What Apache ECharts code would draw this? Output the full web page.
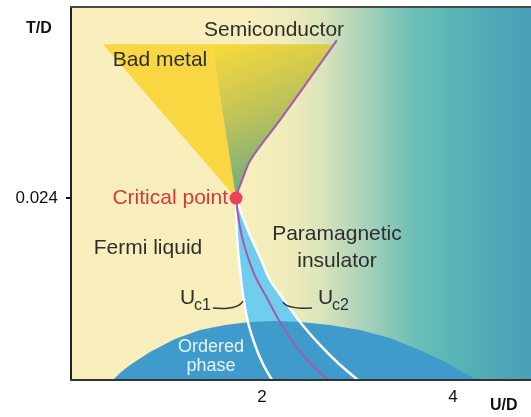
<!DOCTYPE html>
<html>
<head>
<meta charset="utf-8">
<script src="https://cdn.jsdelivr.net/npm/echarts@6/dist/echarts.min.js"></script>
<style>
html,body{margin:0;padding:0;background:#fff;}
#chart{width:531px;height:417px;}
</style>
</head>
<body>
<div id="chart"></div>
<script>
// ---- data (U/D, T/D) ----
const xTickLabels = [2, 4];
const yTickLabels = [0.024];
const criticalPoint = [1.728, 0.024];

// Bad-metal wedge (flat yellow part)
const badMetalWedge = [[0.335, 0.0443], [1.476, 0.0443], [1.728, 0.024]];
// Crossover line from critical point up to the semiconductor region
const crossoverUpper = [[1.728, 0.024], [1.752, 0.02506], [1.792, 0.02637], [1.862, 0.02862],
  [1.950, 0.03033], [2.188, 0.03429], [2.503, 0.03982], [2.785, 0.04484]];
const fanTopEdge = [[1.476, 0.0443], [2.749, 0.0443]];
// First-order transition lines below the critical point
const uc1Line = [[1.728, 0.024], [1.733, 0.02044], [1.749, 0.01714], [1.770, 0.01451], [1.801, 0.01121],
  [1.853, 0.00765], [1.927, 0.00462], [2.010, 0.00211], [2.105, 0]];
const ucLine = [[1.728, 0.024], [1.749, 0.02176], [1.780, 0.01952], [1.822, 0.01741], [1.874, 0.01543],
  [1.937, 0.01345], [2.063, 0.01055], [2.188, 0.00765], [2.346, 0.00462], [2.503, 0.00224], [2.691, 0]];
const uc2Line = [[1.728, 0.024], [1.791, 0.02176], [1.874, 0.01912], [1.979, 0.01622], [2.084, 0.01319],
  [2.230, 0.01055], [2.398, 0.00765], [2.607, 0.00462], [2.796, 0.00224], [3.005, 0]];
// Ordered-phase dome
const orderedDome = [[0.440, 0], [0.513, 0.00092], [0.618, 0.00198], [0.827, 0.00369], [1.089, 0.00541],
  [1.351, 0.00659], [1.613, 0.00725], [1.874, 0.00765], [2.136, 0.00778], [2.398, 0.00765], [2.712, 0.00725],
  [3.026, 0.00659], [3.340, 0.00554], [3.654, 0.00396], [3.916, 0.00237], [4.105, 0.00105], [4.251, 0]];

// Region labels (anchor in data coords)
const regionLabels = [
  { pos: [2.126, 0.04615], text: 'Semiconductor' },
  { pos: [0.932, 0.0422], text: 'Bad metal' },
  { pos: [0.806, 0.01741], text: 'Fermi liquid' },
  { pos: [2.785, 0.01741], text: 'Paramagnetic\ninsulator' }
];
const orderedLabel = { pos: [1.466, 0.00303], text: 'Ordered\nphase' };
const criticalLabel = { pos: [1.644, 0.024], text: 'Critical point' };
const ucLabels = [
  { pos: [1.141, 0.0108], main: 'U', sub: 'c1', side: 'left' },
  { pos: [2.586, 0.0108], main: 'U', sub: 'c2', side: 'right' }
];

// ---- helpers ----
const FONT = '"Liberation Sans", Arial, sans-serif';
const TXT = '#2e2e2e';
const X_MAX = 4.817;
const Y_MAX = 0.0492;

function polygonSeries(points, fill, z) {
  return {
    type: 'custom', coordinateSystem: 'cartesian2d', data: points, z: z, clip: true, silent: true,
    renderItem: function (params, api) {
      if (params.dataIndex !== 0) return null;
      return { type: 'polygon', shape: { points: points.map(p => api.coord(p)) }, style: { fill: fill } };
    }
  };
}
function lineSeries(points, color, width, z) {
  return {
    type: 'custom', coordinateSystem: 'cartesian2d', data: points, z: z, clip: true, silent: true,
    renderItem: function (params, api) {
      if (params.dataIndex !== 0) return null;
      return { type: 'polyline', shape: { points: points.map(p => api.coord(p)), smooth: 0.3 },
        style: { stroke: color, lineWidth: width, fill: null } };
    }
  };
}

const fanPolygon = fanTopEdge.concat(crossoverUpper.slice(0, -1).reverse());
const coexistPolygon = uc1Line.concat(uc2Line.slice().reverse());

const chart = echarts.init(document.getElementById('chart'), null, { renderer: 'canvas' });

const option = {
  animation: false,
  grid: { left: 71, top: 7, right: 0, bottom: 37, show: false },
  xAxis: [{
    type: 'value', min: 0, max: X_MAX, position: 'bottom', z: 20,
    axisLine: { show: true, lineStyle: { color: '#333', width: 2 } },
    axisTick: { show: false },
    splitLine: { show: false },
    axisLabel: { customValues: xTickLabels, margin: 9, fontSize: 17, color: '#111', fontFamily: FONT }
  }, {
    type: 'value', min: 0, max: X_MAX, position: 'top', z: 20,
    axisLine: { show: true, onZero: false, lineStyle: { color: '#4a4a4a', width: 2 } },
    axisTick: { show: false }, axisLabel: { show: false }, splitLine: { show: false }
  }],
  yAxis: {
    type: 'value', min: 0, max: Y_MAX, z: 20,
    axisLine: { show: true, lineStyle: { color: '#222', width: 2 } },
    axisTick: { show: true, customValues: yTickLabels, length: 5, lineStyle: { color: '#111', width: 2 } },
    splitLine: { show: false },
    axisLabel: { customValues: yTickLabels, margin: 13, fontSize: 17, color: '#111', fontFamily: FONT,
      formatter: v => v.toFixed(3) }
  },
  graphic: [
    { type: 'text', left: 26, top: 21, style: { text: 'T/D', font: 'bold 16px ' + FONT, fill: '#111' } },
    { type: 'text', left: 490, top: 398, style: { text: 'U/D', font: 'bold 16px ' + FONT, fill: '#111' } }
  ],
  series: [
    {
      // background of the diagram (whole plotting area)
      type: 'custom', coordinateSystem: 'cartesian2d', data: [[0, 0]], z: 1, silent: true, clip: true,
      renderItem: function (params, api) {
        const a = api.coord([0, Y_MAX]);
        const b = api.coord([X_MAX, 0]);
        return {
          type: 'rect', shape: { x: a[0], y: a[1], width: b[0] - a[0] + 2, height: b[1] - a[1] },
          style: {
            fill: {
              type: 'linear', x: 0, y: 0, x2: 1, y2: 0,
              colorStops: [
                { offset: 0, color: '#f8efbd' },
                { offset: 0.39, color: '#f7eebc' },
                { offset: 0.476, color: '#eeebbb' },
                { offset: 0.54, color: '#dce5bb' },
                { offset: 0.607, color: '#b9d7ba' },
                { offset: 0.672, color: '#94cbb8' },
                { offset: 0.737, color: '#6fc0b6' },
                { offset: 0.80, color: '#5cb9b5' },
                { offset: 0.889, color: '#51acb7' },
                { offset: 1, color: '#489eb7' }
              ]
            }
          }
        };
      }
    },
    polygonSeries(badMetalWedge, '#f9d742', 2),
    polygonSeries(fanPolygon, {
      type: 'linear', x: 0.15, y: 0, x2: 0.65, y2: 1,
      colorStops: [
        { offset: 0, color: '#f6d83c' },
        { offset: 0.45, color: '#bcc25a' },
        { offset: 1, color: '#55a78c' }
      ]
    }, 3),
    polygonSeries(coexistPolygon, '#6fcdee', 4),
    polygonSeries(orderedDome, '#3f9bcc', 5),
    lineSeries(uc1Line, '#ffffff', 2.5, 6),
    lineSeries(uc2Line, '#ffffff', 2.5, 6),
    lineSeries(ucLine, '#a659ad', 2, 7),
    lineSeries(crossoverUpper, '#a659ad', 2, 7),
    {
      type: 'custom', coordinateSystem: 'cartesian2d', data: [criticalPoint], z: 8, silent: true,
      renderItem: function (params, api) {
        const c = api.coord(criticalPoint);
        return { type: 'circle', shape: { cx: c[0], cy: c[1], r: 6.5 }, style: { fill: '#ea445c' } };
      }
    },
    {
      type: 'custom', coordinateSystem: 'cartesian2d', data: regionLabels.map(l => l.pos), z: 9, silent: true,
      renderItem: function (params, api) {
        const l = regionLabels[params.dataIndex];
        const c = api.coord(l.pos);
        return { type: 'text', x: c[0], y: c[1], style: { text: l.text, font: '21px ' + FONT, fill: TXT,
          align: 'center', verticalAlign: 'middle', lineHeight: 27 } };
      }
    },
    {
      type: 'custom', coordinateSystem: 'cartesian2d', data: [orderedLabel.pos, criticalLabel.pos], z: 9, silent: true,
      renderItem: function (params, api) {
        if (params.dataIndex === 0) {
          const c = api.coord(orderedLabel.pos);
          return { type: 'text', x: c[0], y: c[1], style: { text: orderedLabel.text, font: '18px ' + FONT,
            fill: '#e8f4fb', align: 'center', verticalAlign: 'middle', lineHeight: 19 } };
        }
        const c = api.coord(criticalLabel.pos);
        return { type: 'text', x: c[0], y: c[1], style: { text: criticalLabel.text, font: '21px ' + FONT,
          fill: '#d9373f', align: 'right', verticalAlign: 'middle' } };
      }
    },
    {
      type: 'custom', coordinateSystem: 'cartesian2d', data: ucLabels.map(l => l.pos), z: 9, silent: true,
      renderItem: function (params, api) {
        const l = ucLabels[params.dataIndex];
        const c = api.coord(l.pos);
        const x = c[0], y = c[1];
        const conn = l.side === 'left'
          ? { x1: x + 33, y1: y + 10, cpx1: x + 58, cpy1: y + 12, x2: x + 63, y2: y + 3 }
          : { x1: x - 35, y1: y + 4, cpx1: x - 31, cpy1: y + 11, x2: x - 6, y2: y + 10 };
        return {
          type: 'group',
          children: [
            { type: 'text', x: x, y: y, style: { text: l.main, font: '21px ' + FONT, fill: TXT, align: 'left', verticalAlign: 'middle' } },
            { type: 'text', x: x + 14, y: y + 7, style: { text: l.sub, font: '16px ' + FONT, fill: TXT, align: 'left', verticalAlign: 'middle' } },
            { type: 'bezierCurve', shape: conn, style: { stroke: '#333', lineWidth: 1.5, fill: null } }
          ]
        };
      }
    }
  ]
};
chart.setOption(option);
</script>
</body>
</html>
